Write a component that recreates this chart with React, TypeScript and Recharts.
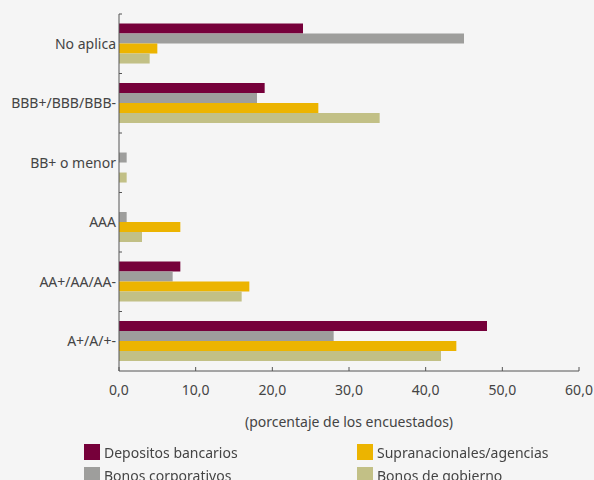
import { BarChart, Bar, XAxis, YAxis } from 'recharts';

// categorías (de arriba a abajo)
const categories = ['No aplica', 'BBB+/BBB/BBB-', 'BB+ o menor', 'AAA', 'AA+/AA/AA-', 'A+/A/+-'];
const depositos = [24, 19, 0, 0, 8, 48];
const corporativos = [45, 18, 1, 1, 7, 28];
const supranacionales = [5, 26, 0, 8, 17, 44];
const gobierno = [4, 34, 1, 3, 16, 42];
const xTicks = [0, 10, 20, 30, 40, 50, 60];

const series = [
  { key: 'depositos', name: 'Depositos bancarios', color: '#76003a', values: depositos },
  { key: 'corporativos', name: 'Bonos corporativos', color: '#9e9e9c', values: corporativos },
  { key: 'supranacionales', name: 'Supranacionales/agencias', color: '#ecb400', values: supranacionales },
  { key: 'gobierno', name: 'Bonos de gobierno', color: '#c2c086', values: gobierno },
];

const data = categories.map((c, i) => {
  const row: Record<string, string | number> = { name: c };
  series.forEach(s => { row[s.key] = s.values[i]; });
  return row;
});

const FONT = '"Noto Sans", sans-serif';
const TEXT = '#444';
const AXIS = '#555';
const FS = 14;
const PLOT_H = 357;
const BAND = PLOT_H / categories.length;

const YTick = (props: any) => {
  const { x, y, payload } = props;
  return (
    <g>
      <line x1={x} x2={x + 3} y1={y - BAND / 2} y2={y - BAND / 2} stroke={AXIS} />
      <text x={x - 3} y={y} dy="0.35em" textAnchor="end" fontSize={FS} fill={TEXT} fontFamily={FONT}>
        {payload.value}
      </text>
    </g>
  );
};

const XTick = (props: any) => {
  const { x, y, payload } = props;
  return (
    <g>
      <line x1={x} x2={x} y1={y} y2={y - 4} stroke={AXIS} />
      <text x={x} y={y + 19} dy="0.35em" textAnchor="middle" fontSize={FS} fill={TEXT} fontFamily={FONT}>
        {payload.value.toFixed(1).replace('.', ',')}
      </text>
    </g>
  );
};

const App = () => {
  return (
    <div style={{ position: 'fixed', left: 0, top: 0, width: 594, height: 480, background: '#f5f5f5', fontFamily: FONT }}>
      <BarChart
        width={594}
        height={480}
        layout="vertical"
        data={data}
        margin={{ top: 14, right: 15, left: 0, bottom: 49 }}
        barCategoryGap="16%"
        barGap={0}
      >
        <XAxis
          type="number"
          domain={[0, 60]}
          ticks={xTicks}
          height={60}
          tickSize={0}
          tickMargin={0}
          tickLine={false}
          axisLine={{ stroke: AXIS }}
          tick={<XTick />}
          label={{ value: '(porcentaje de los encuestados)', position: 'insideTop', offset: 46, fontSize: FS, fill: TEXT, fontFamily: FONT }}
        />
        <YAxis
          type="category"
          dataKey="name"
          width={119}
          tickSize={0}
          tickMargin={0}
          tickLine={false}
          axisLine={{ stroke: AXIS }}
          tick={<YTick />}
          interval={0}
        />
        {series.map(s => (
          <Bar key={s.key} dataKey={s.key} name={s.name} fill={s.color} isAnimationActive={false} />
        ))}
      </BarChart>
      <div
        style={{
          position: 'absolute',
          left: 84,
          top: 444,
          display: 'grid',
          gridTemplateColumns: '273px 240px',
          rowGap: 7,
          fontSize: FS,
          color: TEXT,
        }}
      >
        {[series[0], series[2], series[1], series[3]].map(s => (
          <div key={s.key} style={{ display: 'flex', alignItems: 'center', height: 16, whiteSpace: 'nowrap' }}>
            <span style={{ width: 16, height: 16, background: s.color, marginRight: 4, flexShrink: 0 }} />
            {s.name}
          </div>
        ))}
      </div>
    </div>
  );
};

export default App;
